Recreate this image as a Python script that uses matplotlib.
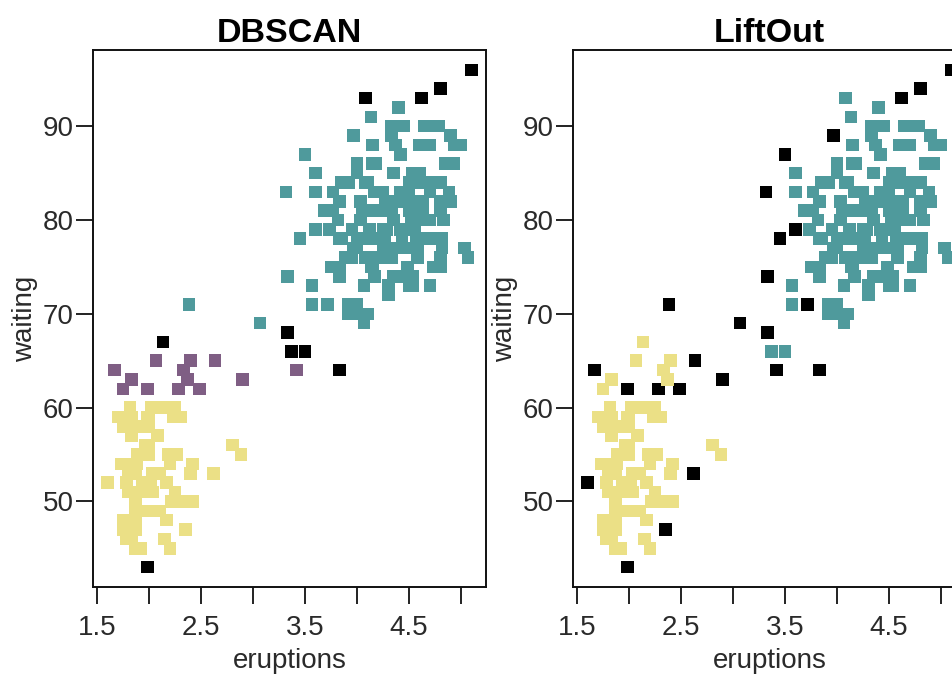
import matplotlib
matplotlib.use('Agg')
import matplotlib.pyplot as plt
import numpy as np

# Old Faithful geyser data (eruption length in min, waiting time in min)
eruptions = [
    3.600, 1.800, 3.333, 2.283, 4.533, 2.883, 4.700, 3.600, 1.950, 4.350,
    1.833, 3.917, 4.200, 1.750, 4.700, 2.167, 1.750, 4.800, 1.600, 4.250,
    1.800, 1.750, 3.450, 3.067, 4.533, 3.600, 1.967, 4.083, 3.850, 4.433,
    4.300, 4.467, 3.367, 4.033, 3.833, 2.017, 1.867, 4.833, 1.833, 4.783,
    4.350, 1.883, 4.567, 1.750, 4.533, 3.317, 3.833, 2.100, 4.633, 2.000,
    4.800, 4.716, 1.833, 4.833, 1.733, 4.883, 3.717, 1.667, 4.567, 4.317,
    2.233, 4.500, 1.750, 4.800, 1.817, 4.400, 4.167, 4.700, 2.067, 4.700,
    4.033, 1.967, 4.500, 4.000, 1.983, 5.067, 2.017, 4.567, 3.883, 3.600,
    4.133, 4.333, 4.100, 2.633, 4.067, 4.933, 3.950, 4.517, 2.167, 4.000,
    2.200, 4.333, 1.867, 4.817, 1.833, 4.300, 4.667, 3.750, 1.867, 4.900,
    2.483, 4.367, 2.100, 4.500, 4.050, 1.867, 4.700, 1.783, 4.850, 3.683,
    4.733, 2.300, 4.900, 4.417, 1.700, 4.633, 2.317, 4.600, 1.817, 4.417,
    2.617, 4.067, 4.250, 1.967, 4.600, 3.767, 1.917, 4.500, 2.267, 4.650,
    1.867, 4.167, 2.800, 4.333, 1.833, 4.383, 1.883, 4.933, 2.033, 3.733,
    4.233, 2.233, 4.533, 4.817, 4.333, 1.983, 4.633, 2.017, 5.100, 1.800,
    5.033, 4.000, 2.400, 4.600, 3.567, 4.000, 4.500, 4.083, 1.800, 3.967,
    2.200, 4.150, 2.000, 3.833, 3.500, 4.583, 2.367, 5.000, 1.933, 4.617,
    1.917, 2.083, 4.583, 3.333, 4.167, 4.333, 4.500, 2.417, 4.000, 4.167,
    1.883, 4.583, 4.250, 3.767, 2.033, 4.433, 4.083, 1.833, 4.417, 2.183,
    4.800, 1.833, 4.800, 4.100, 3.966, 4.233, 3.500, 4.366, 2.250, 4.667,
    2.100, 4.350, 4.133, 1.867, 4.600, 1.783, 4.367, 3.850, 1.933, 4.500,
    2.383, 4.700, 1.867, 3.833, 3.417, 4.233, 2.400, 4.800, 2.000, 4.150,
    1.867, 4.267, 1.750, 4.483, 4.000, 4.117, 4.083, 4.267, 3.917, 4.550,
    4.083, 2.417, 4.183, 2.217, 4.450, 1.883, 1.850, 4.283, 3.950, 2.333,
    4.150, 2.350, 4.933, 2.900, 4.583, 3.833, 2.083, 4.367, 2.133, 4.350,
    2.200, 4.450, 3.567, 4.500, 4.150, 3.817, 3.917, 4.450, 2.000, 4.283,
    4.767, 4.533, 1.850, 4.250, 1.983, 2.250, 4.750, 4.117, 2.150, 4.417,
    1.817, 4.467,
]
waiting = [
    79, 54, 74, 62, 85, 55, 88, 85, 51, 85,
    54, 84, 78, 47, 83, 52, 62, 84, 52, 79,
    51, 47, 78, 69, 74, 83, 55, 76, 78, 79,
    73, 77, 66, 80, 74, 52, 48, 80, 59, 90,
    80, 58, 84, 58, 73, 83, 64, 53, 82, 59,
    75, 90, 54, 80, 54, 83, 71, 64, 77, 81,
    59, 84, 48, 82, 60, 92, 78, 78, 65, 73,
    82, 56, 79, 71, 62, 76, 60, 78, 76, 83,
    75, 82, 70, 65, 73, 88, 76, 80, 48, 86,
    60, 90, 50, 78, 63, 72, 84, 75, 51, 82,
    62, 88, 49, 83, 81, 47, 84, 52, 86, 81,
    75, 59, 89, 79, 59, 81, 50, 85, 59, 87,
    53, 69, 77, 56, 88, 81, 45, 82, 55, 90,
    45, 83, 56, 89, 46, 82, 51, 86, 53, 79,
    81, 60, 82, 77, 76, 59, 80, 49, 96, 53,
    77, 77, 65, 81, 71, 70, 81, 93, 53, 89,
    45, 86, 58, 78, 66, 76, 63, 88, 52, 93,
    49, 57, 77, 68, 81, 81, 73, 50, 85, 74,
    55, 77, 83, 83, 51, 78, 84, 46, 83, 55,
    81, 57, 76, 84, 77, 81, 87, 77, 51, 78,
    60, 82, 91, 53, 78, 46, 77, 84, 49, 83,
    71, 80, 49, 75, 64, 76, 53, 94, 55, 76,
    50, 82, 54, 75, 78, 79, 78, 78, 70, 79,
    70, 54, 86, 50, 90, 54, 54, 77, 79, 64,
    75, 47, 86, 63, 85, 82, 57, 82, 67, 74,
    54, 83, 73, 73, 88, 80, 71, 83, 56, 79,
    78, 84, 58, 83, 43, 60, 75, 81, 46, 90,
    46, 74,
]

# cluster membership (1-based row numbers)
dbscan_noise = [33, 47, 149, 158, 165, 170, 174, 218, 249, 265]
dbscan_purple = [4, 17, 58, 69, 75, 84, 95, 101, 153, 167, 215, 240, 244]
dbscan_teal_extra = [211]
liftout_noise = [1, 3, 4, 19, 23, 24, 46, 47, 57, 58, 75, 84, 101, 121,
                 149, 160, 170, 174, 197, 211, 215, 218, 242, 244, 265]

titles = ['DBSCAN', 'LiftOut']
xtick_pos = [1.5, 2.0, 2.5, 3.0, 3.5, 4.0, 4.5, 5.0]
xtick_lab = ['1.5', '', '2.5', '', '3.5', '', '4.5', '']
ytick_pos = [50, 60, 70, 80, 90]

col_yellow = '#ebe086'
col_teal = '#4f9a9c'
col_purple = '#7f5e84'
col_noise = '#000000'
col_text = '#2a2a2a'

plt.rcParams['font.family'] = ['Liberation Sans', 'DejaVu Sans']

x = np.array(eruptions)
y = np.array(waiting)
n = len(x)


def base_colors(extra_teal):
    cols = []
    for i in range(n):
        if x[i] >= 3.0 or (i + 1) in extra_teal:
            cols.append(col_teal)
        else:
            cols.append(col_yellow)
    return cols


db_cols = base_colors(dbscan_teal_extra)
for k in dbscan_purple:
    db_cols[k - 1] = col_purple
for k in dbscan_noise:
    db_cols[k - 1] = col_noise

lo_cols = base_colors([])
for k in liftout_noise:
    lo_cols[k - 1] = col_noise

fig = plt.figure(figsize=(9.52, 6.75), dpi=100)
ax1 = fig.add_axes([93 / 952, 88 / 675, 393 / 952, 537 / 675])
ax2 = fig.add_axes([573 / 952, 88 / 675, 393 / 952, 537 / 675])

for ax, cols, title in zip([ax1, ax2], [db_cols, lo_cols], titles):
    ax.scatter(x, y, c=cols, marker='s', s=82, linewidths=0)
    ax.set_xlim(1.46, 5.24)
    ax.set_ylim(40.88, 98.12)
    ax.set_xticks(xtick_pos)
    ax.set_xticklabels(xtick_lab)
    ax.set_yticks(ytick_pos)
    ax.tick_params(direction='out', length=12, width=1.3, labelsize=20,
                   colors='#111111', labelcolor=col_text)
    ax.tick_params(axis='y', pad=2)
    ax.tick_params(axis='x', pad=8)
    for s in ax.spines.values():
        s.set_linewidth(1.4)
        s.set_color('#111111')
    ax.set_title(title, fontsize=24.5, fontweight='bold', pad=6)
    ax.set_xlabel('eruptions', fontsize=20, labelpad=5, color=col_text)
    ax.set_ylabel('waiting', fontsize=20, labelpad=3, color=col_text)

fig.savefig('out.png', dpi=100)
